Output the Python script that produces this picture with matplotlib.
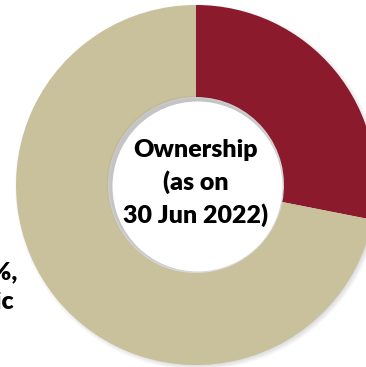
import matplotlib.pyplot as plt
from matplotlib.patches import Circle

# ownership split
names = ['Promoter', 'Public']
shares = [28.1, 71.9]
colors = ['#8B1A2C', '#C9C19C']

plt.rcParams['font.family'] = ['Lato', 'DejaVu Sans']

fig = plt.figure(figsize=(3.66, 3.67), dpi=100)
ax = fig.add_axes([0, 0, 1, 1])

cx, cy, r_out, r_in = 196, 182, 180, 88

# soft drop shadow behind the ring
for k in range(6):
    ax.add_patch(Circle((cx + 2, cy - 2), r_out + 3 - k, color='#000000',
                        alpha=0.025, lw=0, zorder=0))

ax.pie(shares, colors=colors, startangle=90, counterclock=False,
       radius=r_out, center=(cx, cy), frame=True,
       wedgeprops=dict(width=r_out - r_in, linewidth=0))

# faint inner shadow on the hole
for k in range(5):
    ax.add_patch(Circle((cx - 1, cy + 1), r_in + 0.5 - k * 0.8, color='#000000',
                        alpha=0.02, lw=0, zorder=3))
ax.add_patch(Circle((cx + 1.5, cy - 1.5), r_in - 3, color='white', lw=0, zorder=4))

ax.text(cx, cy + 2, 'Ownership\n(as on\n30 Jun 2022)', ha='center', va='center',
        fontsize=18, fontweight='heavy', linespacing=1.45, zorder=5)

ax.text(17, 80, f'{shares[1]}%,\n{names[1]}', ha='right', va='center',
        multialignment='center', fontsize=18, fontweight='heavy',
        linespacing=1.45, zorder=5)

ax.set_xlim(0, 366)
ax.set_ylim(0, 367)
ax.set_aspect('auto')
ax.axis('off')

fig.savefig('out.png', dpi=100)
